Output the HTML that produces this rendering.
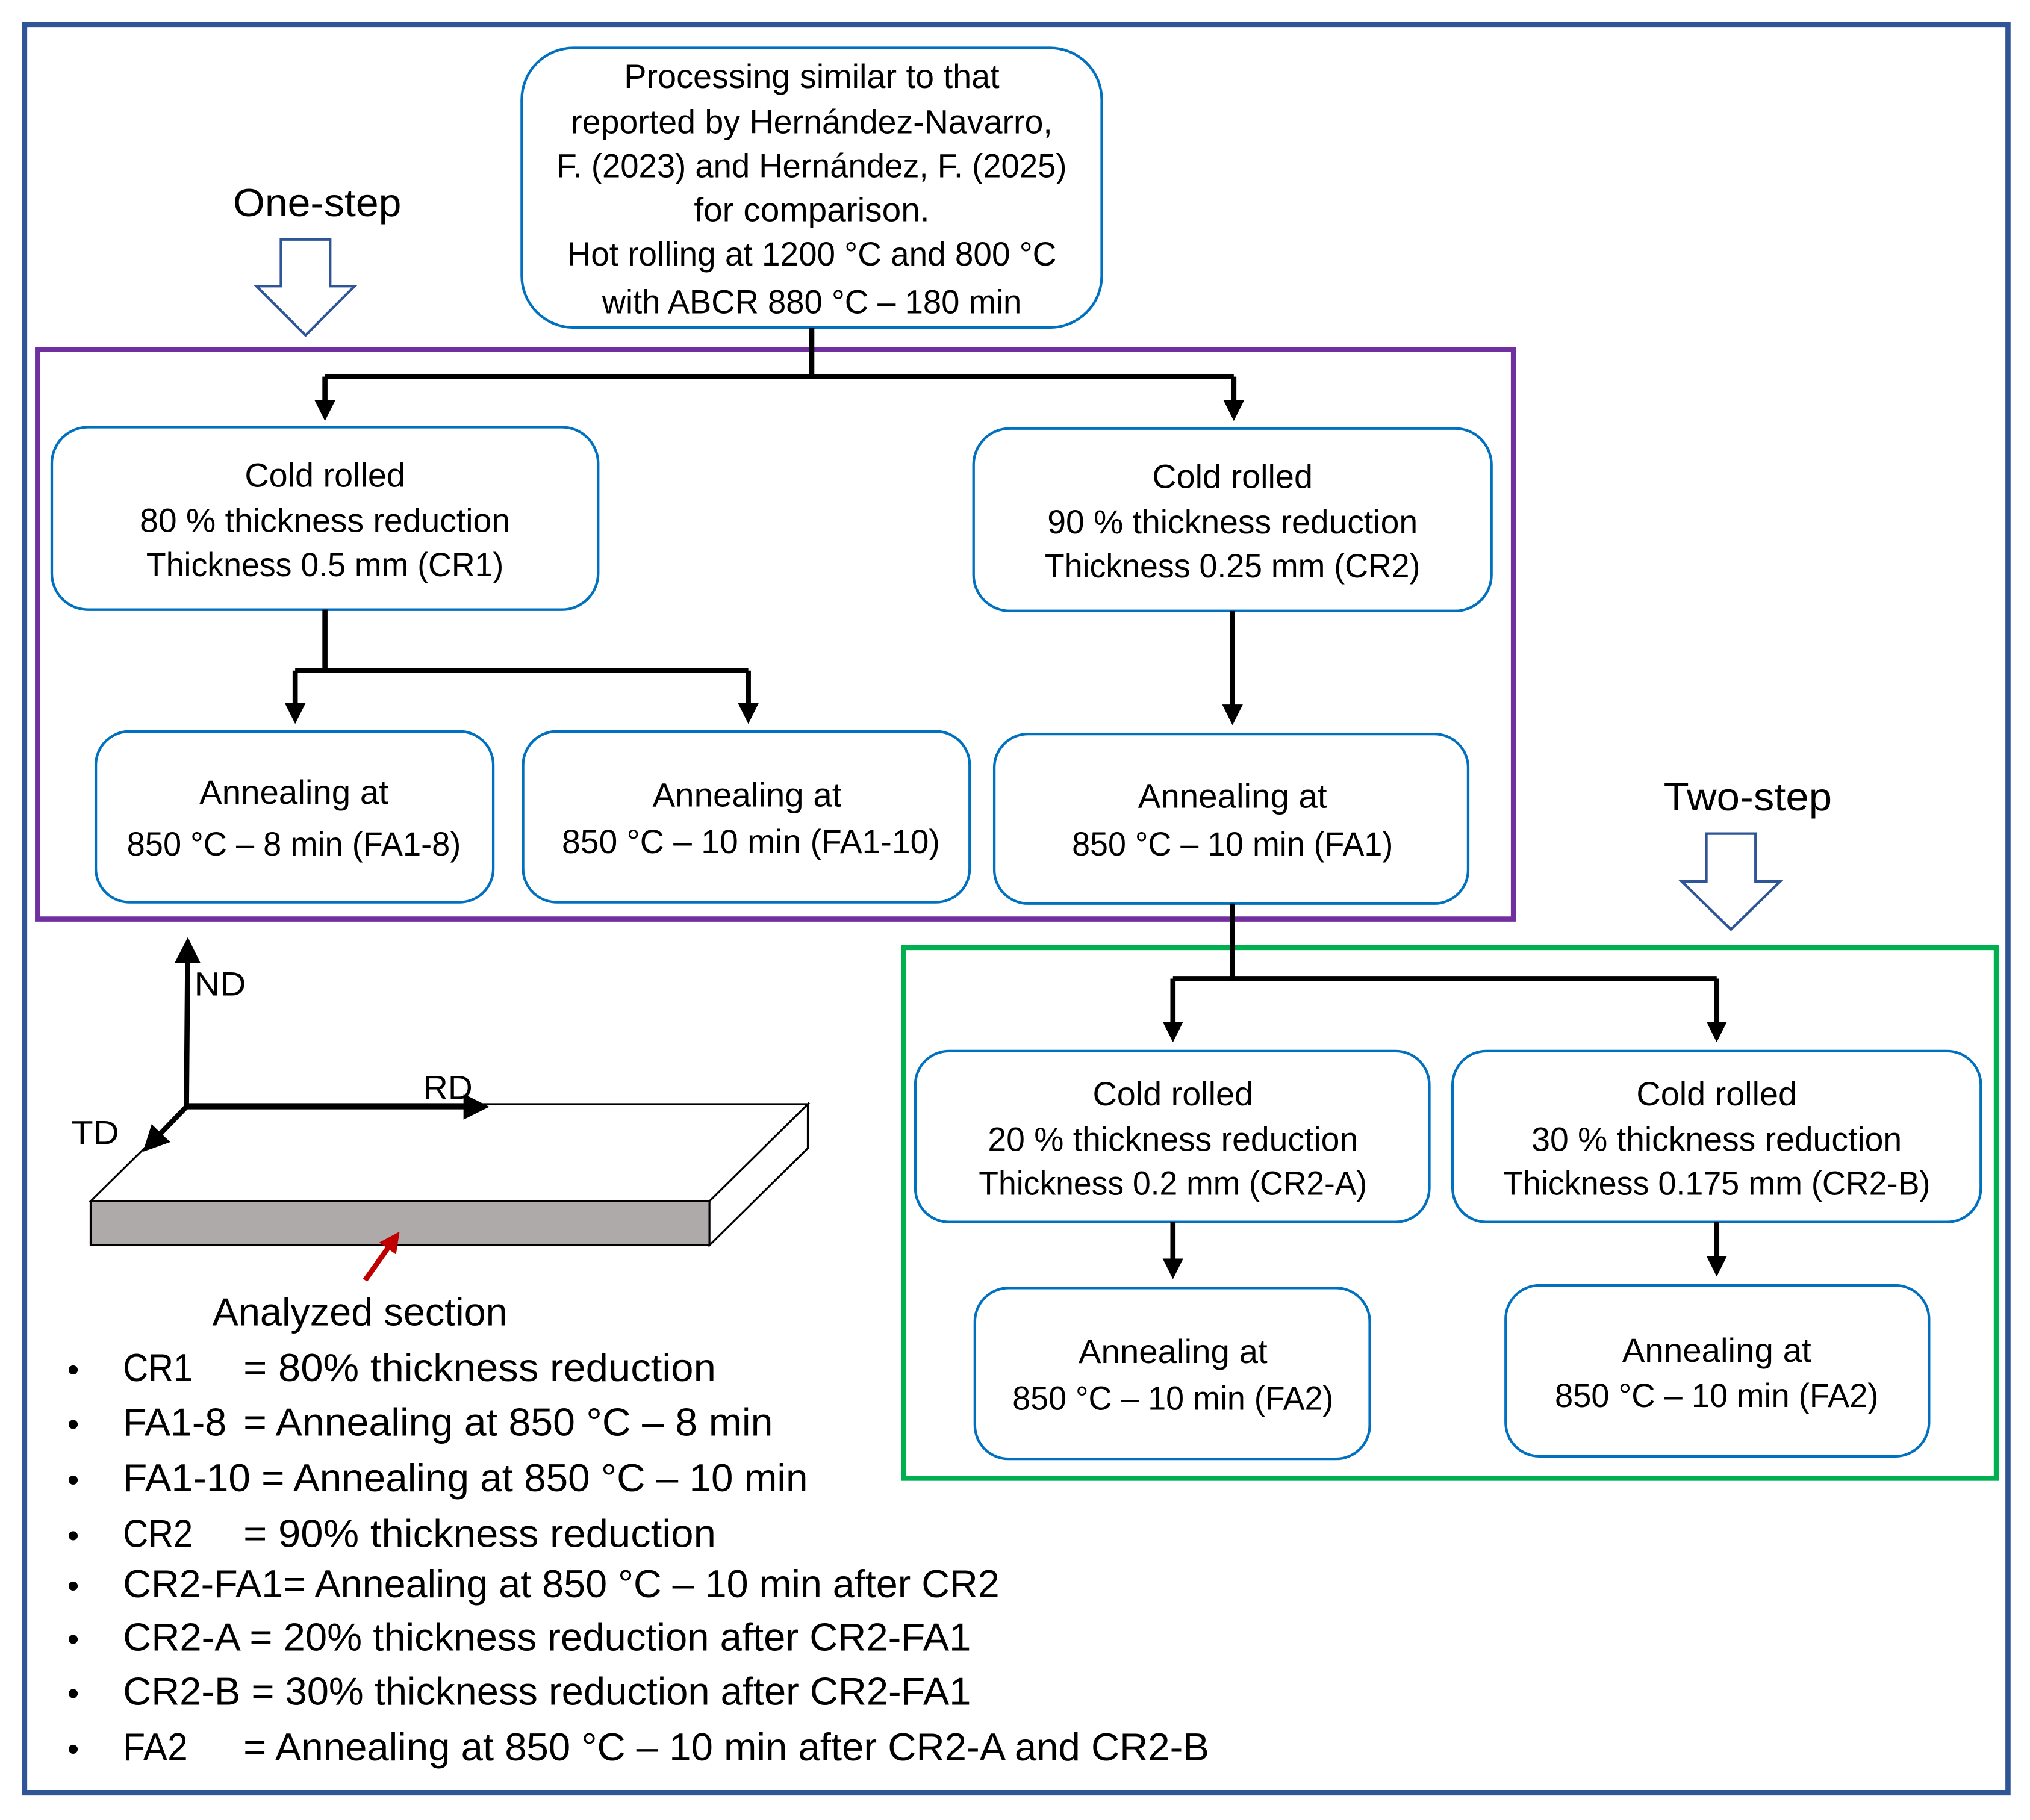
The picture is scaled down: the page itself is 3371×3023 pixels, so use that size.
<!DOCTYPE html>
<html><head><meta charset="utf-8"><style>
html,body{margin:0;padding:0;background:#fff;}
svg{display:block;}
text{font-family:"Liberation Sans Narrow","Liberation Sans",sans-serif;fill:#000;}
</style></head><body>
<svg width="3371" height="3023" viewBox="0 0 1568 1406" preserveAspectRatio="none" xmlns="http://www.w3.org/2000/svg">
<defs>
<marker id="ah" markerWidth="4" markerHeight="4" refX="2.2" refY="2" orient="auto" markerUnits="strokeWidth">
<path d="M0,0 L4,2 L0,4 z" fill="#000"/></marker>
<marker id="ah2" markerWidth="5" markerHeight="5" refX="3" refY="2.5" orient="auto" markerUnits="strokeWidth">
<path d="M0,0 L5,2.5 L0,5 z" fill="#000"/></marker>
<marker id="ahr" markerWidth="4" markerHeight="4" refX="2" refY="2" orient="auto" markerUnits="strokeWidth">
<path d="M0,0 L4,2 L0,4 z" fill="#c00000"/></marker>
</defs>
<rect x="0" y="0" width="1568" height="1406" fill="#fff"/>
<rect x="19" y="19" width="1532" height="1366" fill="none" stroke="#2f5597" stroke-width="4"/>
<rect x="29" y="270" width="1140" height="440" fill="none" stroke="#7030a0" stroke-width="4"/>
<rect x="698" y="732" width="844" height="410" fill="none" stroke="#00b050" stroke-width="4"/>

<g fill="#fff" stroke="#0070c0" stroke-width="2">
<rect x="403" y="37" width="448" height="216" rx="40"/>
<rect x="40" y="330" width="422" height="141" rx="28"/>
<rect x="752" y="331" width="400" height="141" rx="28"/>
<rect x="74" y="565" width="307" height="132" rx="26"/>
<rect x="404" y="565" width="345" height="132" rx="26"/>
<rect x="768" y="567" width="366" height="131" rx="26"/>
<rect x="707" y="812" width="397" height="132" rx="26"/>
<rect x="1122" y="812" width="408" height="132" rx="26"/>
<rect x="753" y="995" width="305" height="132" rx="26"/>
<rect x="1163" y="993" width="327" height="132" rx="26"/>
</g>

<g stroke="#000" stroke-width="4" fill="none">
<path d="M627,253 V291"/>
<path d="M251,291 H953"/>
<path d="M251,291 V318" marker-end="url(#ah)"/>
<path d="M953,291 V318" marker-end="url(#ah)"/>
<path d="M251,471 V518"/>
<path d="M228,518 H578"/>
<path d="M228,518 V552" marker-end="url(#ah)"/>
<path d="M578,518 V552" marker-end="url(#ah)"/>
<path d="M952,472 V553" marker-end="url(#ah)"/>
<path d="M952,698 V756"/>
<path d="M906,756 H1326"/>
<path d="M906,756 V798" marker-end="url(#ah)"/>
<path d="M1326,756 V798" marker-end="url(#ah)"/>
<path d="M906,944 V981" marker-end="url(#ah)"/>
<path d="M1326,944 V979" marker-end="url(#ah)"/>
</g>

<g fill="#fff" stroke="#2f5597" stroke-width="2">
<path d="M217,185 H255 V221 H274 L236,259 L198,221 H217 Z"/>
<path d="M1318,644 H1356 V681 H1375 L1337,718 L1299,681 H1318 Z"/>
</g>

<g font-size="26" text-anchor="middle">
<text x="627" y="68" textLength="290" lengthAdjust="spacingAndGlyphs">Processing similar to that</text>
<text x="627" y="103" textLength="372" lengthAdjust="spacingAndGlyphs">reported by Hernández-Navarro,</text>
<text x="627" y="137" textLength="394" lengthAdjust="spacingAndGlyphs">F. (2023) and Hernández, F. (2025)</text>
<text x="627" y="171" textLength="182" lengthAdjust="spacingAndGlyphs">for comparison.</text>
<text x="627" y="205" textLength="378" lengthAdjust="spacingAndGlyphs">Hot rolling at 1200 °C and 800 °C</text>
<text x="627" y="242" textLength="324" lengthAdjust="spacingAndGlyphs">with ABCR 880 °C – 180 min</text>

<text x="251" y="376" textLength="124" lengthAdjust="spacingAndGlyphs">Cold rolled</text>
<text x="251" y="411" textLength="286" lengthAdjust="spacingAndGlyphs">80 % thickness reduction</text>
<text x="251" y="445" textLength="276" lengthAdjust="spacingAndGlyphs">Thickness 0.5 mm (CR1)</text>
<text x="952" y="377" textLength="124" lengthAdjust="spacingAndGlyphs">Cold rolled</text>
<text x="952" y="412" textLength="286" lengthAdjust="spacingAndGlyphs">90 % thickness reduction</text>
<text x="952" y="446" textLength="290" lengthAdjust="spacingAndGlyphs">Thickness 0.25 mm (CR2)</text>

<text x="227" y="621" textLength="146" lengthAdjust="spacingAndGlyphs">Annealing at</text>
<text x="227" y="661" textLength="258" lengthAdjust="spacingAndGlyphs">850 °C – 8 min (FA1-8)</text>
<text x="577" y="623" textLength="146" lengthAdjust="spacingAndGlyphs">Annealing at</text>
<text x="580" y="659" textLength="292" lengthAdjust="spacingAndGlyphs">850 °C – 10 min  (FA1-10)</text>
<text x="952" y="624" textLength="146" lengthAdjust="spacingAndGlyphs">Annealing at</text>
<text x="952" y="661" textLength="248" lengthAdjust="spacingAndGlyphs">850 °C – 10 min (FA1)</text>

<text x="906" y="854" textLength="124" lengthAdjust="spacingAndGlyphs">Cold rolled</text>
<text x="906" y="889" textLength="286" lengthAdjust="spacingAndGlyphs">20 % thickness reduction</text>
<text x="906" y="923" textLength="300" lengthAdjust="spacingAndGlyphs">Thickness 0.2 mm (CR2-A)</text>
<text x="1326" y="854" textLength="124" lengthAdjust="spacingAndGlyphs">Cold rolled</text>
<text x="1326" y="889" textLength="286" lengthAdjust="spacingAndGlyphs">30 % thickness reduction</text>
<text x="1326" y="923" textLength="330" lengthAdjust="spacingAndGlyphs">Thickness 0.175 mm (CR2-B)</text>

<text x="906" y="1053" textLength="146" lengthAdjust="spacingAndGlyphs">Annealing at</text>
<text x="906" y="1089" textLength="248" lengthAdjust="spacingAndGlyphs">850 °C – 10 min (FA2)</text>
<text x="1326" y="1052" textLength="146" lengthAdjust="spacingAndGlyphs">Annealing at</text>
<text x="1326" y="1087" textLength="250" lengthAdjust="spacingAndGlyphs">850 °C – 10 min (FA2)</text>
</g>

<g font-size="30" text-anchor="middle">
<text x="245" y="167" textLength="130" lengthAdjust="spacingAndGlyphs">One-step</text>
<text x="1350" y="626" textLength="130" lengthAdjust="spacingAndGlyphs">Two-step</text>
<text x="278" y="1024" textLength="228" lengthAdjust="spacingAndGlyphs">Analyzed section</text>
</g>

<!-- plate -->
<g stroke="#000" stroke-width="1.5">
<path d="M70,928 L146,853 L624,853 L548,928 Z" fill="#fff"/>
<rect x="70" y="928" width="478" height="34" fill="#aeaaaa"/>
<path d="M548,928 L624,853 L624,887 L548,962 Z" fill="#fff"/>
</g>
<g stroke="#000" stroke-width="4" fill="none">
<path d="M144,855 L145,732" marker-end="url(#ah2)"/>
<path d="M144,855 H370" marker-end="url(#ah2)"/>
<path d="M144,855 L116,884" marker-end="url(#ah2)"/>
</g>
<path d="M282,989 L304,958" stroke="#c00000" stroke-width="4" marker-end="url(#ahr)"/>
<g font-size="26">
<text x="150" y="769" textLength="40" lengthAdjust="spacingAndGlyphs">ND</text>
<text x="327" y="849" textLength="38" lengthAdjust="spacingAndGlyphs">RD</text>
<text x="55" y="884" textLength="37" lengthAdjust="spacingAndGlyphs">TD</text>
</g>

<g font-size="30">
<g font-size="26"><text x="52" y="1067">•</text><text x="52" y="1109">•</text><text x="52" y="1152">•</text><text x="52" y="1195">•</text><text x="52" y="1234">•</text><text x="52" y="1275">•</text><text x="52" y="1317">•</text><text x="52" y="1360">•</text></g>
<text x="95" y="1067" textLength="54" lengthAdjust="spacingAndGlyphs">CR1</text>
<text x="188" y="1067" textLength="365" lengthAdjust="spacingAndGlyphs">= 80% thickness reduction</text>
<text x="95" y="1109" textLength="80" lengthAdjust="spacingAndGlyphs">FA1-8</text>
<text x="188" y="1109" textLength="409" lengthAdjust="spacingAndGlyphs">= Annealing at 850 °C – 8 min</text>
<text x="95" y="1152" textLength="529" lengthAdjust="spacingAndGlyphs">FA1-10 = Annealing at 850 °C – 10 min</text>
<text x="95" y="1195" textLength="54" lengthAdjust="spacingAndGlyphs">CR2</text>
<text x="188" y="1195" textLength="365" lengthAdjust="spacingAndGlyphs">= 90% thickness reduction</text>
<text x="95" y="1234" textLength="677" lengthAdjust="spacingAndGlyphs">CR2-FA1= Annealing at 850 °C – 10 min after CR2</text>
<text x="95" y="1275" textLength="655" lengthAdjust="spacingAndGlyphs">CR2-A = 20% thickness reduction after CR2-FA1</text>
<text x="95" y="1317" textLength="655" lengthAdjust="spacingAndGlyphs">CR2-B = 30% thickness reduction after CR2-FA1</text>
<text x="95" y="1360" textLength="50" lengthAdjust="spacingAndGlyphs">FA2</text>
<text x="188" y="1360" textLength="746" lengthAdjust="spacingAndGlyphs">= Annealing at 850 °C – 10 min after CR2-A and CR2-B</text>
</g>
</svg>
</body></html>
